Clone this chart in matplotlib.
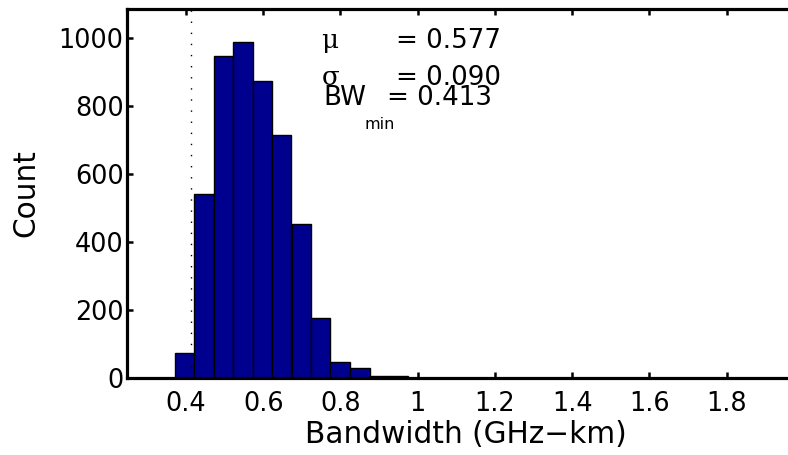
import matplotlib
matplotlib.use("Agg")
import matplotlib.pyplot as plt

# Histogram data (bin centers in GHz-km, counts)
bin_centers = [0.397, 0.447, 0.497, 0.548, 0.598, 0.648, 0.699, 0.749, 0.799, 0.850, 0.900, 0.950]
counts = [74, 541, 948, 988, 873, 716, 454, 176, 48, 30, 6, 5]
bin_width = 0.0503

mu = 0.577
sigma = 0.090
bw_min = 0.413

x_ticks = [0.4, 0.6, 0.8, 1.0, 1.2, 1.4, 1.6, 1.8]
x_tick_labels = ["0.4", "0.6", "0.8", "1", "1.2", "1.4", "1.6", "1.8"]
y_ticks = [0, 200, 400, 600, 800, 1000]

plt.rcParams['font.family'] = ['DejaVu Sans']

fig = plt.figure(figsize=(7.88, 4.55), dpi=100)
ax = fig.add_axes([0.1612, 0.1692, 0.859, 0.811])

ax.bar(bin_centers, counts, width=bin_width, color='#00008F',
       edgecolor='black', linewidth=1.0, zorder=2)
ax.axvline(bw_min, color='black', linestyle=(0, (1, 7)), linewidth=1.0, zorder=3)

ax.set_xlim(0.2473, 2.0)
ax.set_ylim(0, 1085)
ax.set_xticks(x_ticks)
ax.set_xticklabels(x_tick_labels)
ax.set_yticks(y_ticks)
ax.tick_params(direction='in', length=4.5, width=1.8, labelsize=18.4,
               top=True, right=True)
ax.tick_params(axis='x', pad=9.5)
ax.tick_params(axis='y', pad=2.5)
for s in ax.spines.values():
    s.set_linewidth(2.3)

ax.set_xlabel('Bandwidth (GHz\u2212km)', fontsize=21.3, labelpad=2)
ax.set_ylabel('Count', fontsize=21.3, labelpad=13)

fs = 18.8
ax.text(0.751, 970, '\u03bc', fontsize=fs, va='baseline', ha='left',
        family=['DejaVu Serif'])
ax.text(0.945, 970, '= %.3f' % mu, fontsize=fs, va='baseline', ha='left')
ax.text(0.751, 862, '\u03c3', fontsize=fs, va='baseline', ha='left',
        family=['DejaVu Serif'])
ax.text(0.945, 862, '= %.3f' % sigma, fontsize=fs, va='baseline', ha='left')
ax.text(0.755, 803, 'BW', fontsize=fs, va='baseline', ha='left')
ax.text(0.861, 733, 'min', fontsize=11.5, va='baseline', ha='left')
ax.text(0.921, 803, '= %.3f' % bw_min, fontsize=fs, va='baseline', ha='left')

fig.savefig('out.png', dpi=100)
